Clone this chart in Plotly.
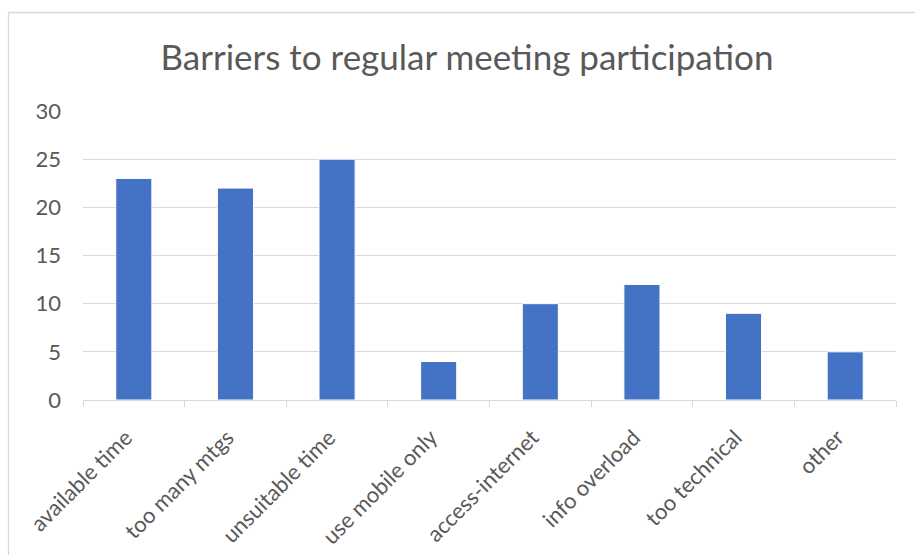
import plotly.graph_objects as go

# Survey responses: reasons members gave for not attending regular meetings
categories = [
    "available time",
    "too many mtgs",
    "unsuitable time",
    "use mobile only",
    "access-internet",
    "info overload",
    "too technical",
    "other",
]
counts = [23, 22, 25, 4, 10, 12, 9, 5]
y_ticks = [0, 5, 10, 15, 20, 25, 30]

TEXT = "#595959"
GRID = "#D9D9D9"
BAR = "#4472C4"
FONT = "Lato"

W, H = 915, 555
L, R, T, B = 83, 19, 111, 155
plot_w = W - L - R
plot_h = H - T - B


def px_to_paper_x(px):
    return (px - L) / plot_w


def px_to_paper_y(py):
    return (H - B - py) / plot_h


# rotated labels end a little below-left of the category centre
PAD = "\u00a0\u00a0"
tick_text = [c + PAD for c in categories]

fig = go.Figure(
    go.Bar(
        x=categories,
        y=counts,
        marker=dict(color=BAR, line=dict(color="white", width=1)),
        hoverinfo="x+y",
    )
)

fig.update_layout(
    width=W,
    height=H,
    margin=dict(l=L, r=R, t=T, b=B, autoexpand=False),
    paper_bgcolor="white",
    plot_bgcolor="white",
    bargap=0.645,
    showlegend=False,
    font=dict(family=FONT, color=TEXT, size=22),
    title=dict(
        text="Barriers to regular meeting participation",
        font=dict(family=FONT, size=35, color=TEXT),
        x=467 / W,
        xref="container",
        xanchor="center",
        y=1 - 58 / H,
        yref="container",
        yanchor="middle",
    ),
    # light chart-area frame
    shapes=[
        dict(
            type="rect",
            xref="paper",
            yref="paper",
            x0=px_to_paper_x(8.5),
            x1=px_to_paper_x(W + 5),
            y0=px_to_paper_y(H + 5),
            y1=px_to_paper_y(12.5),
            line=dict(color=GRID, width=1.3),
            fillcolor="rgba(0,0,0,0)",
            layer="below",
        )
    ],
)

fig.update_xaxes(
    automargin=False,
    tickmode="array",
    tickvals=categories,
    ticktext=tick_text,
    showgrid=False,
    showline=True,
    linecolor=GRID,
    linewidth=1.3,
    ticks="outside",
    tickson="boundaries",
    ticklen=6,
    tickcolor=GRID,
    tickwidth=1.3,
    tickangle=-45,
    tickfont=dict(family=FONT, size=22, color=TEXT),
    ticklabelstandoff=7,
    zeroline=False,
)

fig.update_yaxes(
    automargin=False,
    range=[0, 30],
    tickvals=y_ticks,
    showgrid=True,
    gridcolor=GRID,
    gridwidth=1.3,
    zeroline=False,
    showline=False,
    ticks="",
    ticklabelstandoff=21,
    tickfont=dict(family=FONT, size=22, color=TEXT),
)

fig.write_html("out.html")
